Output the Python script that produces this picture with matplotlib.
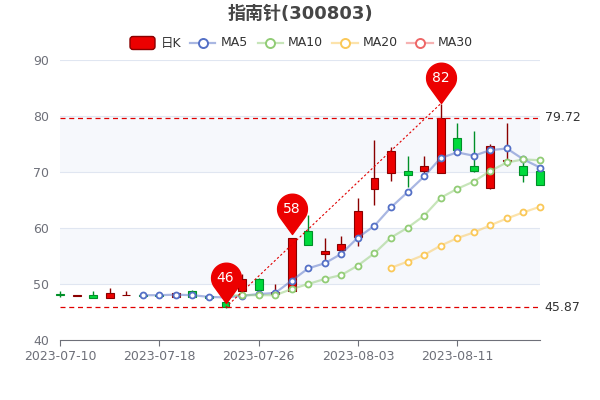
import numpy as np
import matplotlib
matplotlib.use('Agg')
import matplotlib.pyplot as plt
from matplotlib.path import Path
from matplotlib.patches import FancyBboxPatch
from matplotlib.lines import Line2D

plt.rcParams['font.family'] = ['DejaVu Sans', 'Noto Sans CJK SC']

# --- data ---
dates = ['2023-07-10', '2023-07-11', '2023-07-12', '2023-07-13', '2023-07-14',
         '2023-07-17', '2023-07-18', '2023-07-19', '2023-07-20', '2023-07-21',
         '2023-07-24', '2023-07-25', '2023-07-26', '2023-07-27', '2023-07-28',
         '2023-07-31', '2023-08-01', '2023-08-02', '2023-08-03', '2023-08-04',
         '2023-08-07', '2023-08-08', '2023-08-09', '2023-08-10', '2023-08-11',
         '2023-08-14', '2023-08-15', '2023-08-16', '2023-08-17', '2023-08-18']
opens = [48.3, 47.9, 48.0, 47.5, 48.0, 48.0, 48.0, 47.6, 48.7, 47.9,
         46.8, 48.8, 50.9, 48.3, 48.8, 59.5, 55.4, 56.0, 58.4, 66.9,
         69.8, 70.1, 70.1, 69.9, 76.0, 71.1, 67.1, 72.0, 71.1, 70.2]
closes = [48.1, 48.0, 47.5, 48.4, 48.1, 47.9, 47.8, 48.4, 47.7, 47.5,
          45.87, 50.9, 48.9, 48.6, 58.3, 57.0, 55.9, 57.1, 63.0, 69.0,
          73.7, 69.4, 71.0, 79.72, 74.0, 70.1, 74.7, 72.2, 69.5, 67.7]
highs = [48.8, 48.1, 48.8, 49.3, 48.7, 48.1, 48.1, 48.5, 48.9, 48.0,
         46.9, 51.8, 51.0, 50.0, 58.3, 62.3, 58.2, 58.6, 65.4, 75.7,
         74.5, 72.9, 72.8, 82.2, 78.8, 77.3, 75.0, 78.7, 72.7, 71.0]
lows = [47.6, 47.9, 47.5, 47.5, 48.0, 47.8, 47.7, 47.6, 47.6, 47.3,
        45.8, 48.6, 48.8, 48.1, 48.6, 56.9, 54.3, 55.7, 56.7, 64.1,
        68.4, 67.3, 69.9, 69.8, 73.8, 70.0, 67.0, 71.1, 68.3, 67.6]

ma5 = [48.0, 48.0, 48.1, 48.0, 47.7, 47.6, 47.9, 48.2, 48.4, 50.6,
       52.8, 53.7, 55.4, 58.3, 60.4, 63.7, 66.4, 69.2, 72.5, 73.5,
       72.9, 73.9, 74.2, 72.25, 70.8]
ma10 = [47.9, 48.0, 48.0, 48.0, 49.1, 50.0, 50.9, 51.6, 53.3, 55.5,
        58.3, 60.05, 62.2, 65.4, 67.0, 68.3, 70.2, 71.7, 72.25, 72.1]
ma20 = [52.9, 54.0, 55.2, 56.85, 58.2, 59.2, 60.5, 61.7, 62.8, 63.8]
ma30 = []

pin_idx = [10, 14, 23]
pin_vals = [46.6, 58.9, 82.3]

UP, UP_EDGE = '#ec0000', '#8A0000'
DOWN, DOWN_EDGE = '#00da3c', '#008F28'
MA_COLORS = ['#5470c6', '#91cc75', '#fac858', '#ee6666']
AXIS_GRAY = '#6e7079'

fig = plt.figure(figsize=(6, 4), dpi=100)
ax = fig.add_axes([0.1, 0.15, 0.8, 0.7])
ax.set_xlim(0, len(dates) - 1)
ax.set_ylim(40, 90)

# split areas and split lines
for i, lo in enumerate(range(40, 90, 10)):
    if i % 2 == 1:
        ax.axhspan(lo, lo + 10, color='#f6f8fc', zorder=0, lw=0)
for lv in range(50, 91, 10):
    ax.axhline(lv, color='#e0e6f1', lw=0.8, zorder=1)

# candles
x = np.arange(len(dates))
for i in x:
    o, c, h, l = opens[i], closes[i], highs[i], lows[i]
    up = c >= o
    fc, ec = (UP, UP_EDGE) if up else (DOWN, DOWN_EDGE)
    ax.vlines(i, l, h, color=ec, lw=1, zorder=3, clip_on=False)
    ax.bar(i, max(abs(c - o), 0.12), bottom=min(o, c), width=0.48,
           color=fc, edgecolor=ec, lw=0.8, zorder=4, clip_on=False)

# moving averages
for vals, col in zip([ma5, ma10, ma20, ma30], MA_COLORS):
    if not vals:
        continue
    xs = x[len(x) - len(vals):]
    ax.plot(xs, vals, color=col, lw=1.6, alpha=0.5, zorder=5, clip_on=False)
    ax.plot(xs, vals, ls='none', marker='o', ms=4.3, mfc='white', mec=col,
            mew=1.3, zorder=6, clip_on=False)

# mark lines
for lv in [max(closes), min(closes)]:
    ax.axhline(lv, color='#e00000', lw=0.9, ls=(0, (4, 3)), zorder=7)
    ax.text(1.01, lv, f'{lv:.2f}', transform=ax.get_yaxis_transform(),
            ha='left', va='center', fontsize=9, color='#333333')
i_lo, i_hi = int(np.argmin(lows)), int(np.argmax(highs))
ax.plot([i_lo, i_hi], [lows[i_lo], highs[i_hi]], color='#e00000', lw=0.8,
        ls=(0, (2, 2)), zorder=7)


def pin_path(r=1.0, h=1.7, n=80):
    a = np.arccos(r / h)
    t = np.linspace(-np.pi / 2 + a, 1.5 * np.pi - a, n)
    verts = [(0, 0)] + list(zip(r * np.cos(t), h + r * np.sin(t))) + [(0, 0)]
    codes = [Path.MOVETO] + [Path.LINETO] * n + [Path.CLOSEPOLY]
    return Path(verts, codes)


pin = pin_path()
for pi, pv in zip(pin_idx, pin_vals):
    ax.plot(pi, pv, marker=pin, ms=58, color='#ec0000', mec='#ec0000',
            zorder=9, clip_on=False)
    ax.annotate(str(int(pv)), (pi, pv), xytext=(0, 18), textcoords='offset points',
                ha='center', va='center', color='white', fontsize=10, zorder=10)

# axes styling
for s in ['top', 'right', 'left']:
    ax.spines[s].set_visible(False)
ax.spines['bottom'].set_color(AXIS_GRAY)
ax.spines['bottom'].set_zorder(8)
ax.set_yticks(range(40, 91, 10))
ax.tick_params(axis='y', length=0, pad=8, labelcolor=AXIS_GRAY, labelsize=9)
tick_pos = list(range(0, len(dates), 6))
ax.set_xticks(tick_pos)
ax.set_xticklabels([dates[i] for i in tick_pos])
ax.tick_params(axis='x', length=4, color=AXIS_GRAY, pad=3, labelcolor=AXIS_GRAY, labelsize=9)

# title
fig.text(0.5, 1 - 14 / 400, '指南针(300803)', ha='center', va='center',
         fontsize=13, fontweight='bold', color='#464646')

# legend drawn in pixel space
tr = fig.dpi_scale_trans
ly = (400 - 43) / 100
fig.patches.append(FancyBboxPatch((1.30, ly - 0.065), 0.25, 0.13,
                                  boxstyle='round,pad=0,rounding_size=0.03',
                                  fc=UP, ec=UP_EDGE, lw=1, transform=tr, figure=fig))
fig.text(1.605, ly, '日K', transform=tr, ha='left', va='center', fontsize=9, color='#333333')
leg = [('MA5', 1.90), ('MA10', 2.575), ('MA20', 3.32), ('MA30', 4.07)]
for (name, lx), col in zip(leg, MA_COLORS):
    fig.lines.append(Line2D([lx, lx + 0.255], [ly, ly], color=col, lw=1.6, alpha=0.5,
                            transform=tr, figure=fig))
    fig.lines.append(Line2D([lx + 0.128], [ly], marker='o', ms=6.5, mfc='white', mec=col,
                            mew=1.4, transform=tr, figure=fig))
    fig.text(lx + 0.305, ly, name, transform=tr, ha='left', va='center',
             fontsize=9, color='#333333')

fig.savefig('out.png', dpi=100)
